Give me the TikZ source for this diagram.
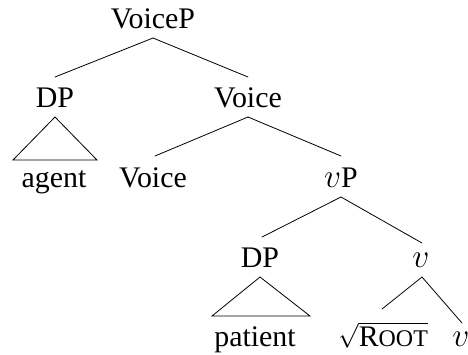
\documentclass[tikz,border=0pt]{standalone}
\usepackage{fontspec}
\setmainfont{Liberation Serif}
% the little-v head; the math italic stops at 24.88pt, so enlarge it
\newcommand{\lilv}{\scalebox{1.35}{$v$}}
\begin{document}
\begin{tikzpicture}[x=1bp,y=-1bp,
  lab/.style={anchor=base,inner sep=0pt,font=\fontsize{30}{33}\selectfont},
  branch/.style={line width=0.8bp,line cap=round},
  roof/.style={line width=0.8bp,line join=miter}]
\useasboundingbox (0,0) rectangle (468,354);

% node labels, placed on their baselines
\node[lab] (vp)      at (153,28)  {VoiceP};
\node[lab] (dpa)     at (55,107)  {DP};
\node[lab] (voicebar) at (248,107) {Voice};
\node[lab] (agent)   at (54,187)  {agent};
\node[lab] (voice)   at (153,187) {Voice};
\node[lab] (vP)      at (341,187) {\lilv P};
\node[lab] (dpp)     at (260,267) {DP};
\node[lab] (vbar)    at (421,267) {\lilv};
\node[lab] (patient) at (255,346) {patient};
\node[lab] (root)    at (383,346) {$\sqrt{\mbox{R\fontsize{24}{26}\selectfont OOT}}$};
\node[lab] (vhead)   at (461,346) {\lilv};

% branches
\draw[branch] ([yshift=-10bp]vp.base) -- ([yshift=30bp]dpa.base);
\draw[branch] ([yshift=-10bp]vp.base) -- ([yshift=30bp]voicebar.base);
\draw[branch] ([yshift=-10bp]voicebar.base) -- ([shift={(2bp,31bp)}]voice.base);
\draw[branch] ([yshift=-10bp]voicebar.base) -- ([yshift=31bp]vP.base);
\draw[branch] ([yshift=-10bp]vP.base) -- ([shift={(2bp,30bp)}]dpp.base);
\draw[branch] ([yshift=-10bp]vP.base) -- ([shift={(1bp,24bp)}]vbar.base);
\draw[branch] ([shift={(1bp,-10bp)}]vbar.base) -- ([shift={(-1bp,37bp)}]root.base);
\draw[branch] ([shift={(1bp,-10bp)}]vbar.base) -- ([shift={(1bp,23bp)}]vhead.base);

% roofs over the phrasal arguments
\draw[roof] ([yshift=-10bp]dpa.base) -- ([shift={(-42bp,-53bp)}]dpa.base)
  -- ([shift={(42bp,-53bp)}]dpa.base) -- cycle;
\draw[roof] ([yshift=-10bp]dpp.base) -- ([shift={(-48bp,-49bp)}]dpp.base)
  -- ([shift={(50bp,-49bp)}]dpp.base) -- cycle;
\end{tikzpicture}
\end{document}
